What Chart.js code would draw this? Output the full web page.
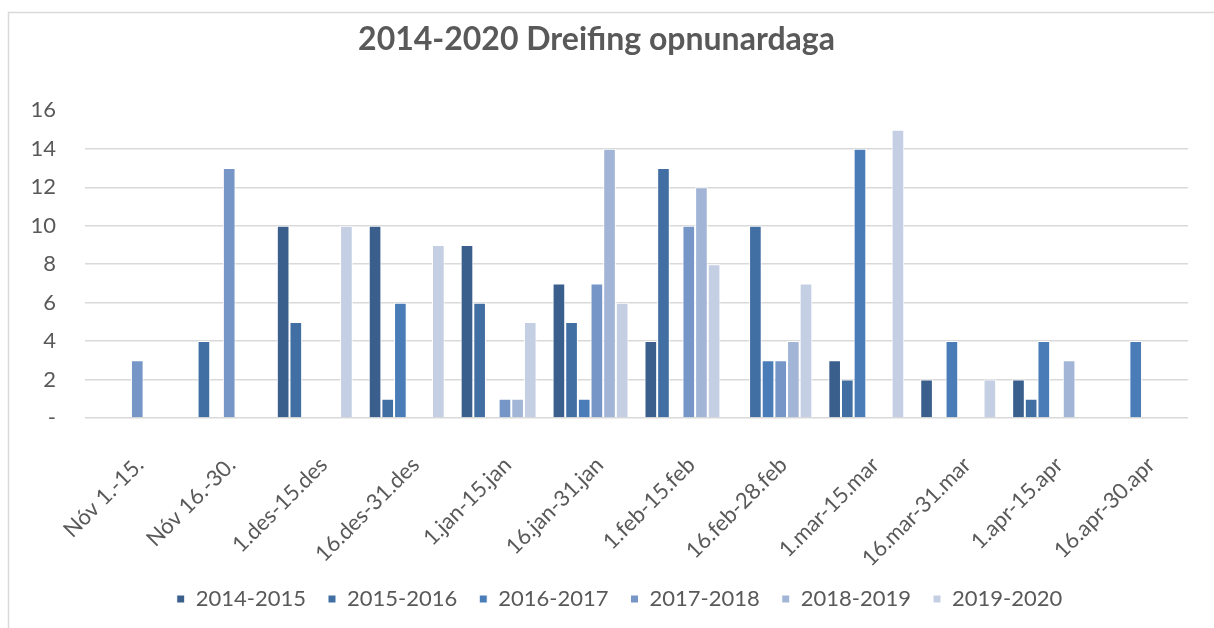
<!DOCTYPE html>
<html>
<head>
<meta charset="utf-8">
<script src="https://cdn.jsdelivr.net/npm/chart.js@4/dist/chart.umd.min.js"></script>
<style>
  html, body { margin: 0; padding: 0; background: #fff; }
  #wrap { width: 1214px; height: 628px; position: relative; }
</style>
</head>
<body>
<div id="wrap"><canvas id="dreifing"></canvas></div>
<script>
const periods = ['Nóv 1.-15.', 'Nóv 16.-30.', '1.des-15.des', '16.des-31.des', '1.jan-15.jan', '16.jan-31.jan',
    '1.feb-15.feb', '16.feb-28.feb', '1.mar-15.mar', '16.mar-31.mar', '1.apr-15.apr', '16.apr-30.apr'];

const seasons = ['2014-2015', '2015-2016', '2016-2017', '2017-2018', '2018-2019', '2019-2020'];

const s2014 = [null, null, 10, 10, 9, 7, 4, null, 3, 2, 2, null];
const s2015 = [null, 4, 5, 1, 6, 5, 13, 10, 2, null, 1, null];
const s2016 = [null, null, null, 6, null, 1, null, 3, 14, 4, 4, 4];
const s2017 = [3, 13, null, null, 1, 7, 10, 3, null, null, null, null];
const s2018 = [null, null, null, null, 1, 14, 12, 4, null, null, 3, null];
const s2019 = [null, null, 10, 9, 5, 6, 8, 7, 15, 2, null, null];

const yTicks = [0, 2, 4, 6, 8, 10, 12, 14, 16];

const seasonColors = ['#3a5f8d', '#426fa3', '#4a7db8', '#7596c7', '#a3b5d7', '#c5cfe3'];
const seriesValues = [s2014, s2015, s2016, s2017, s2018, s2019];

const textGrey = '#595959';
Chart.defaults.font.family = 'Lato, "Open Sans", sans-serif';
Chart.defaults.color = textGrey;

// light frame around the chart (only left + top edge show in the picture)
const framePlugin = {
    id: 'frame',
    beforeDraw(chart) {
        const c = chart.ctx;
        c.save();
        c.fillStyle = '#ffffff';
        c.fillRect(0, 0, chart.width, chart.height);
        c.strokeStyle = '#d9d9d9';
        c.lineWidth = 1.5;
        c.beginPath();
        c.moveTo(8.5, chart.height);
        c.lineTo(8.5, 12.5);
        c.lineTo(chart.width, 12.5);
        c.stroke();
        c.restore();
    }
};

// title sits a little left of centre, legend a little right, as in the original
const nudgePlugin = {
    id: 'nudge',
    afterLayout(chart) {
        if (chart.titleBlock) { chart.titleBlock.left -= 13; chart.titleBlock.right -= 13; }
        if (chart.legend) { chart.legend.left += 10; chart.legend.right += 10; }
    }
};

const PAD_BOTTOM = 8;
const PLOT_BOTTOM = 418;

const ctx = document.getElementById('dreifing').getContext('2d');
new Chart(ctx, {
    type: 'bar',
    data: {
        labels: periods,
        datasets: seasons.map((s, i) => ({
            label: s,
            data: seriesValues[i],
            backgroundColor: seasonColors[i],
            borderColor: '#ffffff',
            borderWidth: 1,
            borderSkipped: 'bottom',
            categoryPercentage: 0.826,
            barPercentage: 1
        }))
    },
    options: {
        responsive: true,
        maintainAspectRatio: false,
        animation: false,
        layout: { padding: { top: 0, left: 31, right: 26, bottom: PAD_BOTTOM } },
        plugins: {
            title: {
                display: true,
                text: '2014-2020 Dreifing opnunardaga',
                color: textGrey,
                font: { size: 32, weight: 'bold' },
                padding: { top: 20, bottom: 52 }
            },
            legend: {
                position: 'bottom',
                labels: {
                    boxWidth: 8,
                    boxHeight: 8,
                    padding: 22,
                    color: textGrey,
                    font: { size: 22 }
                }
            },
            tooltip: { enabled: false }
        },
        scales: {
            x: {
                grid: { display: false },
                border: { display: false },
                afterFit: scale => {
                    // keep rotated labels from pushing the plot around
                    scale.paddingLeft = 0;
                    scale.paddingRight = 0;
                    const lg = scale.chart.legend;
                    scale.height = scale.chart.height - PAD_BOTTOM - (lg ? lg.height : 0) - PLOT_BOTTOM;
                },
                ticks: {
                    autoSkip: false,
                    minRotation: 45,
                    maxRotation: 45,
                    padding: 26,
                    labelOffset: 9,
                    color: textGrey,
                    font: { size: 22 }
                }
            },
            y: {
                min: 0,
                max: 16,
                afterBuildTicks: axis => { axis.ticks = yTicks.map(v => ({ value: v })); },
                afterFit: scale => { scale.width = 54; },
                border: { display: false },
                grid: {
                    color: c => (c.tick && c.tick.value === 16) ? 'rgba(0,0,0,0)' : '#d9d9d9',
                    lineWidth: 1.5,
                    drawTicks: false
                },
                ticks: {
                    padding: 29,
                    color: textGrey,
                    font: { size: 22 },
                    callback: v => (v === 0 ? '-' : v)
                }
            }
        }
    },
    plugins: [framePlugin, nudgePlugin]
});
</script>
</body>
</html>
